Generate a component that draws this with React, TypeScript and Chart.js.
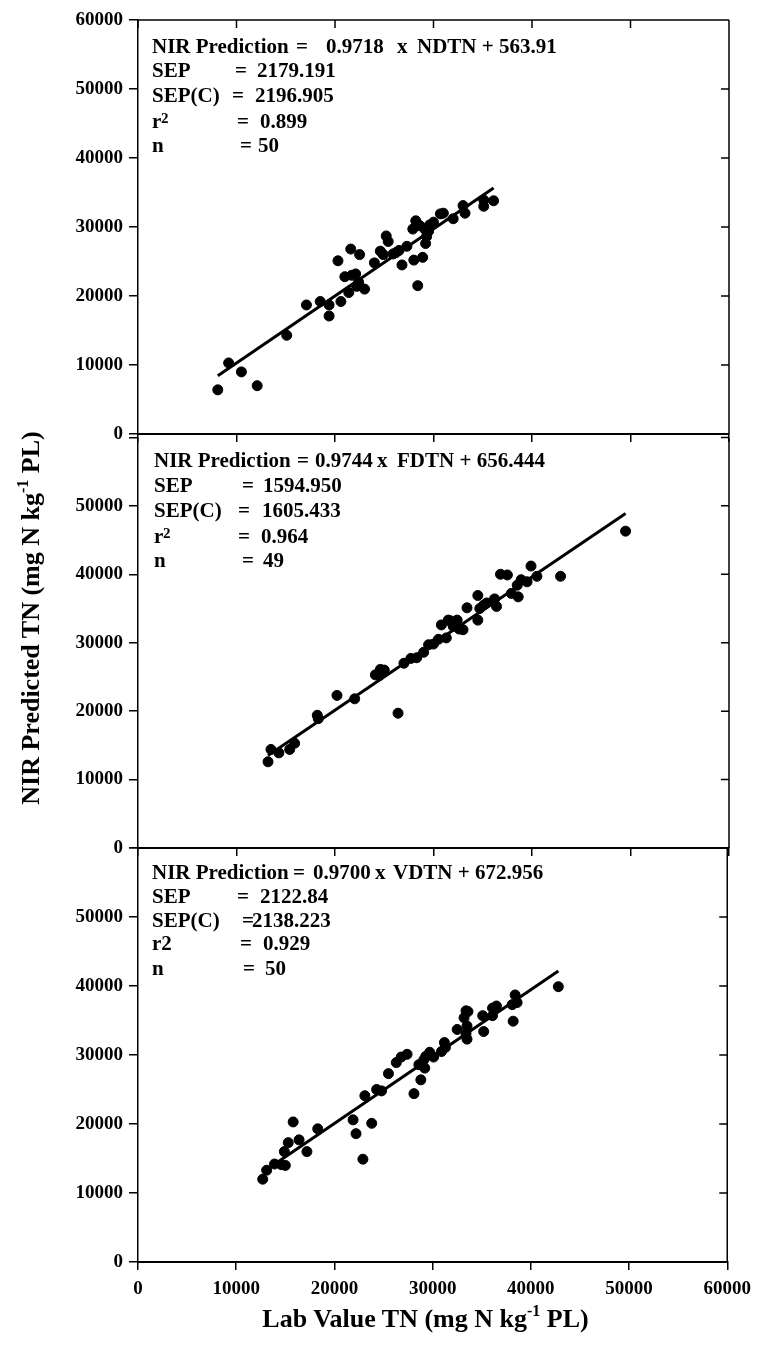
import React, { useEffect, useRef } from 'react';
import { Chart, registerables } from 'chart.js';

Chart.register(...registerables);

// ---- axis settings (shared by the three panels) ----
const AXIS_MIN = 0;
const AXIS_MAX = 60000;
const AXIS_STEP = 10000;

// ---- NDTN panel ----
const ndtnLab = [
  8100, 9200, 10500, 12100, 15100, 17100, 18500, 19400, 19400, 20600,
  20300, 21600, 22500, 21400, 21700, 22100, 22200, 22400, 24000, 24600,
  25200, 25400, 24900, 26500, 26800, 25900, 28200, 27900, 28400, 28000,
  28900, 29200, 29300, 29100, 29600, 29500, 30700, 31000, 32000, 33000,
  33200, 35100, 35100, 36100, 30000, 27300, 28600, 21000, 23000, 26200,
];
const ndtnPred = [
  6400, 10300, 9000, 7000, 14300, 18700, 19200, 17100, 18700, 19200,
  25100, 26800, 26000, 20500, 23000, 23200, 21400, 22000, 24800, 26500,
  28700, 27900, 26000, 26600, 24500, 26100, 30900, 29700, 21500, 25200,
  25600, 27600, 28600, 29700, 30300, 29400, 31900, 32000, 31200, 33100,
  32000, 33000, 33900, 33800, 30700, 27200, 30200, 22800, 21000, 26300,
];
const ndtnSlope = 0.9718;
const ndtnIntercept = 563.91;

// ---- FDTN panel ----
const fdtnLab = [
  13200, 13500, 14300, 15400, 15900, 18200, 18300, 20200, 22000, 24100,
  24600, 24500, 26400, 27000, 27700, 29000, 29500, 30000, 30800, 31300,
  31500, 32000, 32400, 33000, 33400, 34500, 34500, 35100, 34700, 36400,
  36200, 36800, 37500, 38500, 38600, 39500, 39900, 40500, 42900, 38900,
  49500, 31700, 32300, 35400, 28300, 25000, 32600, 37900, 30500,
];
const fdtnPred = [
  12600, 14400, 13900, 14400, 15300, 19400, 18900, 22300, 21800, 25300,
  26100, 25200, 19700, 27000, 27700, 28600, 29700, 29800, 32600, 30700,
  33300, 32400, 33300, 31900, 35100, 36900, 33300, 35500, 35000, 35300,
  36400, 40000, 39900, 38400, 36700, 38900, 41200, 39700, 39700, 39200,
  46300, 33200, 33100, 35800, 27800, 26000, 32000, 37200, 30500,
];
const fdtnSlope = 0.9744;
const fdtnIntercept = 656.444;

// ---- VDTN panel ----
const vdtnLab = [
  12700, 13100, 13900, 14600, 14900, 15300, 15800, 16400, 17200, 18300,
  21900, 22200, 22900, 23800, 23100, 24300, 24800, 25500, 26300, 26800,
  27400, 28100, 28800, 28600, 29200, 29300, 29700, 30100, 31200, 31300,
  32500, 33400, 33200, 33500, 33400, 33500, 35200, 35100, 36100, 36500,
  38200, 38100, 38400, 38600, 42800, 36100, 29100, 33600, 15000, 30900,
];
const vdtnPred = [
  12000, 13300, 14200, 14100, 16000, 17300, 20300, 17700, 16000, 19300,
  20600, 18600, 14900, 20100, 24100, 25000, 24800, 27300, 28900, 29700,
  30100, 24400, 26400, 28600, 28100, 29800, 30400, 29700, 31800, 31100,
  33700, 36400, 35400, 34200, 33100, 32300, 33400, 35700, 36800, 37100,
  34900, 37300, 38700, 37600, 39900, 35700, 29300, 36300, 14000, 30500,
];
const vdtnSlope = 0.97;
const vdtnIntercept = 672.956;

const FONT = '"Liberation Serif", "Times New Roman", serif';

type Seg = { t: string; x: number; sup?: boolean };
type Line = { y: number; segs: Seg[] };

const ndtnText: Line[] = [
  { y: 52.5, segs: [{ t: 'NIR Prediction', x: 152 }, { t: '=', x: 296 }, { t: '0.9718', x: 326 }, { t: 'x', x: 397 }, { t: 'NDTN + 563.91', x: 417 }] },
  { y: 76.5, segs: [{ t: 'SEP', x: 152 }, { t: '=', x: 235 }, { t: '2179.191', x: 257 }] },
  { y: 101.5, segs: [{ t: 'SEP(C)', x: 152 }, { t: '=', x: 232 }, { t: '2196.905', x: 255 }] },
  { y: 128, segs: [{ t: 'r', x: 152 }, { t: '2', x: 161, sup: true }, { t: '=', x: 237 }, { t: '0.899', x: 260 }] },
  { y: 151.5, segs: [{ t: 'n', x: 152 }, { t: '=', x: 240 }, { t: '50', x: 258 }] },
];

const fdtnText: Line[] = [
  { y: 467, segs: [{ t: 'NIR Prediction', x: 154 }, { t: '=', x: 297 }, { t: '0.9744', x: 315 }, { t: 'x', x: 377 }, { t: 'FDTN + 656.444', x: 397 }] },
  { y: 492, segs: [{ t: 'SEP', x: 154 }, { t: '=', x: 242 }, { t: '1594.950', x: 263 }] },
  { y: 516.5, segs: [{ t: 'SEP(C)', x: 154 }, { t: '=', x: 238 }, { t: '1605.433', x: 262 }] },
  { y: 542.5, segs: [{ t: 'r', x: 154 }, { t: '2', x: 163, sup: true }, { t: '=', x: 238 }, { t: '0.964', x: 261 }] },
  { y: 566.5, segs: [{ t: 'n', x: 154 }, { t: '=', x: 242 }, { t: '49', x: 263 }] },
];

const vdtnText: Line[] = [
  { y: 879, segs: [{ t: 'NIR Prediction', x: 152 }, { t: '=', x: 293 }, { t: '0.9700', x: 313 }, { t: 'x', x: 375 }, { t: 'VDTN + 672.956', x: 393 }] },
  { y: 903, segs: [{ t: 'SEP', x: 152 }, { t: '=', x: 237 }, { t: '2122.84', x: 260 }] },
  { y: 927, segs: [{ t: 'SEP(C)', x: 152 }, { t: '=', x: 242 }, { t: '2138.223', x: 252 }] },
  { y: 950, segs: [{ t: 'r2', x: 152 }, { t: '=', x: 240 }, { t: '0.929', x: 263 }] },
  { y: 975, segs: [{ t: 'n', x: 152 }, { t: '=', x: 243 }, { t: '50', x: 265 }] },
];

// Frame: right border with inward ticks, optional top border with inward ticks
const framePlugin = {
  id: 'frame',
  afterDraw(chart: any, _args: any, opts: any) {
    const { ctx, chartArea } = chart;
    const sx = chart.scales.x;
    const sy = chart.scales.y;
    ctx.save();
    ctx.strokeStyle = '#000';
    ctx.lineWidth = 1.5;
    ctx.beginPath();
    ctx.moveTo(chartArea.right, chartArea.top);
    ctx.lineTo(chartArea.right, chartArea.bottom);
    if (opts.top) {
      ctx.moveTo(chartArea.left, chartArea.top);
      ctx.lineTo(chartArea.right, chartArea.top);
    }
    for (let v = AXIS_MIN; v <= AXIS_MAX; v += AXIS_STEP) {
      const y = sy.getPixelForValue(v);
      ctx.moveTo(chartArea.right - 8, y);
      ctx.lineTo(chartArea.right, y);
      if (opts.top) {
        const x = sx.getPixelForValue(v);
        ctx.moveTo(x, chartArea.top);
        ctx.lineTo(x, chartArea.top + 8);
      }
    }
    ctx.stroke();
    ctx.restore();
  },
};

// Regression statistics block in the upper-left of each panel
const statsPlugin = {
  id: 'stats',
  afterDraw(chart: any, _args: any, opts: any) {
    const { ctx } = chart;
    ctx.save();
    ctx.fillStyle = '#000';
    ctx.textBaseline = 'alphabetic';
    ctx.textAlign = 'left';
    (opts.lines as Line[]).forEach((line) => {
      line.segs.forEach((s) => {
        ctx.font = s.sup ? `bold 15px ${FONT}` : `bold 21px ${FONT}`;
        ctx.fillText(s.t, s.x, line.y - opts.offset - (s.sup ? 5 : 0));
      });
    });
    ctx.restore();
  },
};

type PanelProps = {
  top: number;
  height: number;
  padTop: number;
  xAxisHeight: number;
  lab: number[];
  pred: number[];
  slope: number;
  intercept: number;
  lines: Line[];
  showXLabels: boolean;
  showTopLabel: boolean;
  topFrame: boolean;
};

function Panel(p: PanelProps) {
  const ref = useRef<HTMLCanvasElement | null>(null);
  useEffect(() => {
    if (!ref.current) return;
    const points = p.lab.map((x, i) => ({ x, y: p.pred[i] }));
    const lo = Math.min(...p.lab);
    const hi = Math.max(...p.lab);
    const fit = [lo, hi].map((x) => ({ x, y: p.slope * x + p.intercept }));
    const tickFont = { family: FONT, size: 19, weight: 'bold' as const };
    const chart = new Chart(ref.current, {
      type: 'scatter',
      data: {
        datasets: [
          {
            type: 'line',
            data: fit,
            borderColor: '#000',
            borderWidth: 3,
            pointRadius: 0,
            fill: false,
          } as any,
          {
            type: 'scatter',
            data: points,
            backgroundColor: '#000',
            borderColor: '#000',
            pointRadius: 5,
            pointHoverRadius: 5,
          },
        ],
      },
      options: {
        responsive: false,
        animation: false,
        devicePixelRatio: 1,
        events: [],
        layout: { padding: { left: 58, right: 30, top: p.padTop, bottom: 0 } },
        plugins: {
          legend: { display: false },
          tooltip: { enabled: false },
          frame: { top: p.topFrame },
          stats: { lines: p.lines, offset: p.top },
        } as any,
        scales: {
          x: {
            type: 'linear',
            min: AXIS_MIN,
            max: AXIS_MAX,
            position: 'bottom',
            ticks: {
              stepSize: AXIS_STEP,
              display: p.showXLabels,
              color: '#000',
              font: tickFont,
              padding: 8,
              maxRotation: 0,
              autoSkip: false,
              callback: (v: any) => String(v),
            },
            grid: { drawOnChartArea: false, drawTicks: true, tickLength: 8, color: '#000', lineWidth: 1.5 },
            border: { display: true, color: '#000', width: 2 },
            afterFit: (s: any) => {
              s.height = p.xAxisHeight;
            },
          },
          y: {
            type: 'linear',
            min: AXIS_MIN,
            max: AXIS_MAX,
            ticks: {
              stepSize: AXIS_STEP,
              color: '#000',
              font: tickFont,
              padding: 6,
              callback: (v: any) => (v === AXIS_MAX && !p.showTopLabel ? '' : String(v)),
            },
            grid: { drawOnChartArea: false, drawTicks: true, tickLength: 9, color: '#000', lineWidth: 1.5 },
            border: { display: true, color: '#000', width: 1.5 },
            afterFit: (s: any) => {
              s.width = 80;
            },
          },
        },
      },
      plugins: [framePlugin, statsPlugin],
    });
    return () => chart.destroy();
  }, []);
  return (
    <canvas
      ref={ref}
      width={759}
      height={p.height}
      style={{ position: 'absolute', left: 0, top: p.top, width: 759, height: p.height }}
    />
  );
}

export default function App() {
  const titleStyle: React.CSSProperties = {
    position: 'absolute',
    fontFamily: FONT,
    fontWeight: 'bold',
    fontSize: 26,
    lineHeight: '30px',
    color: '#000',
    whiteSpace: 'nowrap',
    textAlign: 'center',
  };
  const supStyle: React.CSSProperties = { fontSize: 16, position: 'relative', top: -11 };
  return (
    <div style={{ position: 'absolute', left: 0, top: 0, width: 759, height: 1345, background: '#fff', overflow: 'hidden' }}>
      <Panel
        top={0}
        height={460}
        padTop={20}
        xAxisHeight={26}
        lab={ndtnLab}
        pred={ndtnPred}
        slope={ndtnSlope}
        intercept={ndtnIntercept}
        lines={ndtnText}
        showXLabels={false}
        showTopLabel={true}
        topFrame={true}
      />
      <Panel
        top={420}
        height={450}
        padTop={14}
        xAxisHeight={22}
        lab={fdtnLab}
        pred={fdtnPred}
        slope={fdtnSlope}
        intercept={fdtnIntercept}
        lines={fdtnText}
        showXLabels={false}
        showTopLabel={false}
        topFrame={false}
      />
      <Panel
        top={830}
        height={515}
        padTop={18}
        xAxisHeight={83}
        lab={vdtnLab}
        pred={vdtnPred}
        slope={vdtnSlope}
        intercept={vdtnIntercept}
        lines={vdtnText}
        showXLabels={true}
        showTopLabel={false}
        topFrame={false}
      />
      <div style={{ ...titleStyle, left: 130, width: 591, top: 1304 }}>
        Lab Value TN (mg N kg<span style={supStyle}>-1</span> PL)
      </div>
      <div
        style={{
          ...titleStyle,
          left: 31 - 300,
          width: 600,
          top: 618 - 15,
          height: 30,
          transform: 'rotate(-90deg)',
          transformOrigin: '50% 50%',
        }}
      >
        NIR Predicted TN (mg N kg<span style={supStyle}>-1</span> PL)
      </div>
    </div>
  );
}
